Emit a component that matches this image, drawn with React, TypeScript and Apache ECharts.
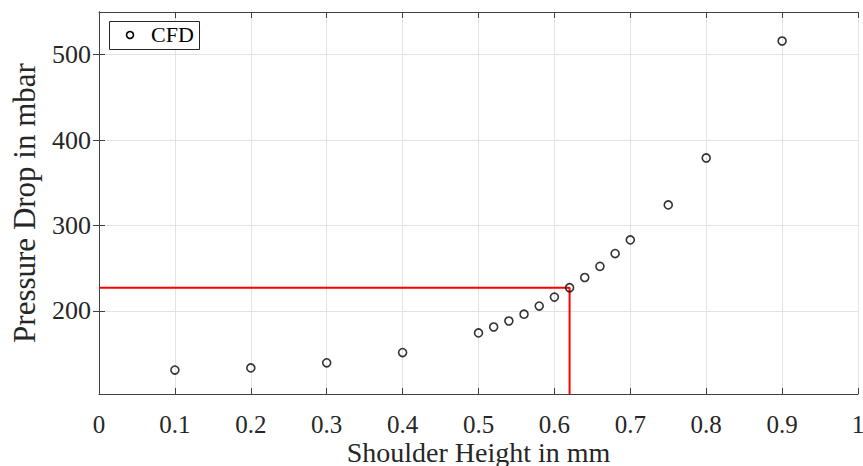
import React, { useEffect, useRef } from "react";
import * as echarts from "echarts";

const shoulderHeight = [0.1, 0.2, 0.3, 0.4, 0.5, 0.52, 0.54, 0.56, 0.58, 0.6, 0.62, 0.64, 0.66, 0.68, 0.7, 0.75, 0.8, 0.9];
const pressureDrop = [130.5, 133, 139, 151, 174, 181, 188, 196, 205.5, 216, 227, 239, 252, 267, 283, 324, 379, 516];
const markerX = 0.62;
const markerY = 227;
const yTicks = [200, 300, 400, 500];
const xTicks = [0, 0.1, 0.2, 0.3, 0.4, 0.5, 0.6, 0.7, 0.8, 0.9, 1];

const Y_MIN = 102.5;
const Y_MAX = 550;

export default function App() {
  const ref = useRef<HTMLDivElement>(null);
  useEffect(() => {
    if (!ref.current) return;
    const chart = echarts.init(ref.current, null, { renderer: "svg" });
    const font = "'Liberation Serif', 'Times New Roman', serif";
    const axisColor = "#404040";
    const gridColor = "#e3e3e3";
    const baseX = {
      type: "value" as const,
      min: 0,
      max: 1,
      interval: 0.1,
    };
    const baseY = {
      type: "value" as const,
      min: Y_MIN,
      max: Y_MAX,
    };
    chart.setOption({
      animation: false,
      backgroundColor: "#ffffff",
      grid: { left: 99, top: 12, right: 5, bottom: 72, containLabel: false, outerBoundsMode: "none" },
      xAxis: [
        {
          ...baseX,
          position: "bottom",
          name: "Shoulder Height in mm",
          nameLocation: "middle",
          nameGap: 48,
          nameMoveOverlap: false,
          nameTextStyle: { fontFamily: font, fontSize: 28, lineHeight: 20, color: "#262626" },
          axisLine: { show: true, lineStyle: { color: axisColor, width: 1 } },
          axisTick: { show: true, inside: true, length: 6, lineStyle: { color: axisColor } },
          axisLabel: {
            fontFamily: font,
            fontSize: 25,
            lineHeight: 18,
            color: "#262626",
            margin: 21,
            customValues: xTicks,
            formatter: (v: number) => String(Math.round(v * 10) / 10),
          },
          splitLine: { show: true, lineStyle: { color: gridColor, width: 1 } },
        },
        {
          ...baseX,
          position: "top",
          axisLine: { show: true, lineStyle: { color: axisColor, width: 1 } },
          axisTick: { show: true, inside: true, length: 6, lineStyle: { color: axisColor } },
          axisLabel: { show: false },
          splitLine: { show: false },
        },
      ],
      yAxis: [
        {
          ...baseY,
          position: "left",
          name: "Pressure Drop in mbar",
          nameLocation: "middle",
          nameGap: 59,
          nameMoveOverlap: false,
          nameTextStyle: { fontFamily: font, fontSize: 31, color: "#262626" },
          axisLine: { show: true, lineStyle: { color: axisColor, width: 1 } },
          axisTick: { show: true, inside: true, length: 6, customValues: yTicks, lineStyle: { color: axisColor } },
          axisLabel: {
            fontFamily: font,
            fontSize: 26,
            color: "#262626",
            margin: 8,
            customValues: yTicks,
          },
          splitLine: { show: true, lineStyle: { color: gridColor, width: 1 } },
        },
        {
          ...baseY,
          position: "right",
          axisLine: { show: true, lineStyle: { color: axisColor, width: 1 } },
          axisTick: { show: true, inside: true, length: 6, customValues: yTicks, lineStyle: { color: axisColor } },
          axisLabel: { show: false },
          splitLine: { show: false },
        },
      ],
      series: [
        {
          name: "guide",
          type: "line",
          xAxisIndex: 0,
          yAxisIndex: 0,
          data: [
            [0, markerY],
            [markerX, markerY],
            [markerX, Y_MIN],
          ],
          symbol: "none",
          lineStyle: { color: "#ff0000", width: 2 },
          z: 3,
        },
        {
          name: "CFD",
          type: "scatter",
          xAxisIndex: 0,
          yAxisIndex: 0,
          data: shoulderHeight.map((x, i) => [x, pressureDrop[i]]),
          symbol: "circle",
          symbolSize: 8,
          itemStyle: { color: "rgba(255,255,255,0)", borderColor: "#000000", borderWidth: 1.6 },
          z: 4,
        },
      ],
      graphic: [
        {
          type: "rect",
          left: 109,
          top: 21,
          shape: { width: 90, height: 28 },
          style: { fill: "#ffffff", stroke: "#262626", lineWidth: 1 },
          z: 10,
        },
        {
          type: "circle",
          shape: { cx: 130, cy: 35, r: 3.5 },
          style: { fill: "none", stroke: "#000000", lineWidth: 1.6 },
          z: 11,
        },
        {
          type: "text",
          left: 151,
          top: 23,
          style: { text: "CFD", font: `22px ${font}`, fill: "#000000" },
          z: 11,
        },
      ],
    });
    return () => chart.dispose();
  }, []);
  return (
    <div
      ref={ref}
      style={{ position: "absolute", left: 0, top: 0, width: 863, height: 466 }}
    />
  );
}
